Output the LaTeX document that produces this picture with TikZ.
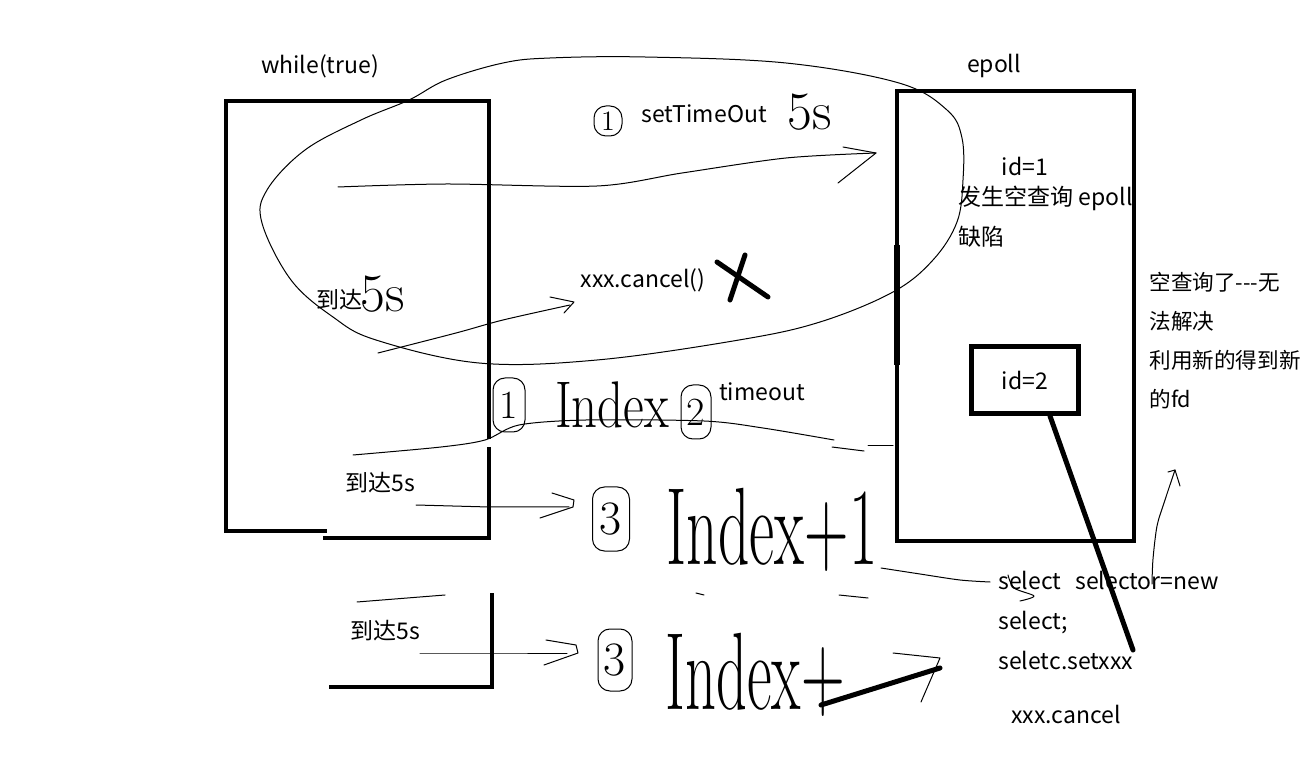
\documentclass[tikz,border=0pt]{standalone}
\usepackage{fontspec}
\usepackage{graphicx}
\setmainfont{Noto Sans CJK SC}
\newfontfamily\handfont{Latin Modern Roman}
\tikzset{
  wall/.style={line width=2.2pt,line cap=rect},
  stroke/.style={line width=2.5pt,line cap=round},
  pen/.style={line width=0.5pt,line cap=round,line join=round},
  txt/.style={font=\fontsize{11.5}{20}\selectfont,inner sep=0pt},
  notes/.style={txt,anchor=west,align=left},
  scrawl/.style={inner sep=0pt,font=\handfont\fontsize{#1}{#1}\selectfont},
  circled/.style={draw,line width=0.5pt,rounded corners=6pt,inner sep=0pt,font=\handfont\fontsize{20}{20}\selectfont}}

\begin{document}
\begin{tikzpicture}[x=0.5pt,y=-0.5pt]
  \useasboundingbox[fill=white] (0,0) rectangle (1308,775);

  % loop side
  \node[txt] (loop) at (320,66) {while(true)};
  \draw[wall] (489,437) -- (489,101) -- (226,101) -- (226,531) -- (325,531);
  \draw[wall] (489,449) -- (489,538) -- (325,538);
  \draw[wall] (492,595) -- (492,687) -- (331,687);

  % epoll side
  \node[txt] (epoll) at (994,66) {epoll};
  \draw[wall] (897,91) rectangle (1134,541);
  \draw[line width=3pt] (897,245) -- (897,365);
  \node[txt] (id1) at (1025,166) {id=1};
  \node[notes] (bug) at (958,217) {发生空查询 epoll\\缺陷};
  \node[txt,draw,line width=2.5pt,minimum width=53.5pt,minimum height=33.5pt] (id2) at (1025,380) {id=2};
  \node[notes,font=\fontsize{10.8}{19.5}\selectfont] (remedy) at (1149,341) {空查询了-{}-{}-无\\法解决\\利用新的得到新\\的fd};
  \node[notes] (fix) at (998,620) {select\hspace{7pt}selector=new\\select;\\seletc.setxxx};
  \node[txt] (cancelB) at (1066,714) {xxx.cancel};
  \coordinate (strikeend) at (1133,650);
  \draw[stroke] ([xshift=12.5pt]id2.south) -- (strikeend);

  % timer scribbles
  \node[circled,minimum width=14pt,minimum height=15pt,font=\handfont\fontsize{14}{14}\selectfont] (one) at (608,121) {1};
  \node[txt] (settime) at (704,114) {setTimeOut};
  \node[scrawl=27] (fives) at (810,112) {5s};
  \node[txt] (cancel) at (643,280) {xxx.cancel()};
  \draw[stroke] (717,262) -- (768,297);
  \draw[stroke] (745,255) -- (730,300);
  \node[txt] (arrive) at (339,300) {到达};
  \node[scrawl=27] (arrivefive) at (383,294) {5s};

  \draw[pen] plot[smooth cycle,tension=0.6] coordinates {(550,58) (645,57) (786,63) (899,83) (947,110) (962,138)
    (963,180) (957,222) (933,260) (893,292) (820,322) (739,340) (597,360) (479,363) (376,340) (333,317)
    (291,280) (262,223) (267,190) (305,150) (361,120) (409,100) (446,80) (503,63)};

  \coordinate (toepoll) at (876,153);
  \draw[pen] plot[smooth] coordinates {(338,187) (446,184) (597,186) (682,173) (786,158) (876,153)};
  \draw[pen] (843,147) -- (toepoll) -- (838,183);
  \coordinate (tocancel) at (570,305);
  \draw[pen] plot[smooth] coordinates {(378,353) (456,333) (503,320) (tocancel)};
  \draw[pen] (550,297) -- (574,302) -- (564,313);

  % index scribbles
  \node[circled,minimum width=16pt,minimum height=27pt] (idxone) at (509,405) {1};
  \node[scrawl=33] (idx) at (612,405) {\scalebox{0.77}[1]{Index}};
  \node[circled,minimum width=15pt,minimum height=27pt] (idxtwo) at (696,412) {2};
  \node[txt] (timeout) at (762,392) {timeout};
  \draw[pen] plot[smooth] coordinates {(353,455) (441,447) (485,440) (519,425) (586,420) (704,421) (763,428) (834,440)};
  \draw[pen] (832,447) -- (864,451);
  \draw[pen] (868,446) -- (893,446);

  \node[txt] (arriveA) at (380,483) {到达5s};
  \node[circled,minimum width=18.5pt,minimum height=32pt,font=\handfont\fontsize{24}{24}\selectfont] (three) at (611,519) {3};
  \node[scrawl=55] (incr) at (772,530) {\scalebox{0.56}[1]{Index+1}};
  \draw[pen] (416,505) -- (489,507) -- (569,507);
  \draw[pen] (552,493) -- (574,500) -- (573,507) -- (540,518);
  \draw[pen] (696,593) -- (704,595);
  \draw[pen] (839,595) -- (868,598);

  \node[txt] (arriveB) at (385,631) {到达5s};
  \draw[pen] (357,602) -- (445,595);
  \node[circled,minimum width=17pt,minimum height=31pt,font=\handfont\fontsize{24}{24}\selectfont] (threeB) at (615,660) {3};
  \node[scrawl=55] (incrB) at (755,675) {\scalebox{0.55}[1]{Index+}};
  \draw[pen] (420,653) -- (489,653) -- (567,653);
  \draw[pen] (546,640) -- (576,645) -- (578,653) -- (544,665);
  \coordinate (slashA) at (821,705);
  \coordinate (slashB) at (940,668);
  \draw[stroke] (slashA) -- (slashB);
  \draw[pen] (893,653) -- (940,658) -- (921,702);

  % select links
  \draw[pen] plot[smooth] coordinates {(881,568) (920,574) (960,580) (990,582)};
  \draw[pen] plot[smooth] coordinates {(1008,575) (1014,588) (1034,596) (1020,601)};
  \coordinate (upend) at (1175,470);
  \draw[pen] plot[smooth] coordinates {(1152,584) (1153,559) (1157,526) (1164,503) (upend)};
  \draw[pen] (1168,472) -- (upend) -- (1180,486);
\end{tikzpicture}
\end{document}
